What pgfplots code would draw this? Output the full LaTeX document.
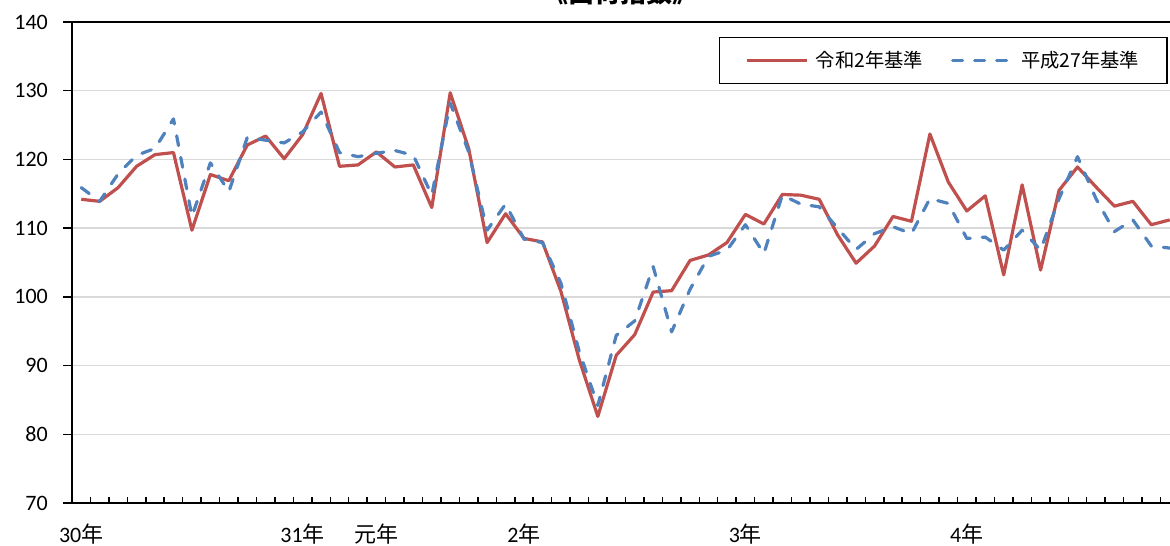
\documentclass[border=0pt]{standalone}
\usepackage{fontspec}
\setmainfont{Carlito}
\newfontfamily\jp{Noto Sans CJK JP}
\usepackage{pgfplots}
\pgfplotsset{compat=1.18}
\definecolor{cred}{RGB}{192,80,77}
\definecolor{cblue}{RGB}{79,129,189}
\definecolor{cgrid}{RGB}{217,217,217}
\pgfplotstableread{
i r b
0 114.2 115.9
1 113.9 113.9
2 115.9 117.9
3 119.0 120.6
4 120.7 121.6
5 121.0 125.9
6 109.7 111.7
7 117.8 119.5
8 116.9 115.3
9 122.1 123.2
10 123.4 122.8
11 120.1 122.4
12 123.6 124.0
13 129.6 126.9
14 119.0 121.0
15 119.2 120.4
16 121.1 120.9
17 118.9 121.3
18 119.2 120.6
19 113.0 114.8
20 129.7 128.2
21 121.6 121.1
22 107.9 109.7
23 112.1 113.5
24 108.5 108.4
25 108.0 107.9
26 100.8 102.0
27 90.8 92.0
28 82.6 84.2
29 91.5 94.4
30 94.5 96.5
31 100.7 104.4
32 100.9 94.9
33 105.3 101.1
34 106.1 105.9
35 107.9 106.8
36 112.0 110.5
37 110.6 106.3
38 114.9 114.8
39 114.8 113.5
40 114.2 113.1
41 109.0 110.0
42 104.9 106.9
43 107.4 109.2
44 111.7 110.2
45 111.0 109.2
46 123.7 114.3
47 116.7 113.6
48 112.5 108.5
49 114.7 108.7
50 103.2 106.8
51 116.3 109.7
52 103.9 106.8
53 115.5 114.3
54 118.9 120.4
55 116.0 114.3
56 113.2 109.5
57 113.9 111.2
58 110.5 107.4
59 111.2 107.1
}\datatable
\begin{document}
\begin{tikzpicture}
\begin{axis}[
  at={(0pt,0pt)}, anchor=south west,
  scale only axis, width=1107pt, height=481pt,
  xmin=-0.5, xmax=59.5, ymin=70, ymax=140,
  axis x line*=bottom, axis y line*=left,
  axis line style={line width=2pt, -},
  tick align=outside,
  /pgf/number format/assume math mode=true,
  ytick={70,80,...,140},
  ymajorgrids, grid style={cgrid, line width=1.5pt},
  major tick length=9pt,
  minor tick length=6pt,
  y tick style={line width=1.5pt, black},
  yticklabel style={font=\fontsize{22}{24}\selectfont, anchor=east, inner sep=0pt, xshift=-15pt},
  xtick={0,12,16,24,36,48},
  xticklabels={30{\jp 年},31{\jp 年},{\jp 元年},2{\jp 年},3{\jp 年},4{\jp 年}},
  major x tick style={draw=none},
  minor xtick={-0.5,0.5,...,59.5},
  minor x tick style={line width=1.5pt, black, yshift=6pt},
  xticklabel style={font=\fontsize{22}{24}\selectfont, anchor=base, inner sep=0pt, yshift=-30pt},
  legend style={at={(0.990,0.969)}, anchor=north east, draw=black, line width=1.5pt, fill=white,
    font=\jp\fontsize{19.3}{21}\selectfont, inner xsep=26pt, inner ysep=12pt,
    /tikz/every even column/.append style={column sep=26pt}},
  legend columns=2,
  legend image code/.code={\draw[#1] (0pt,0pt) -- (60pt,0pt); \path (65pt,0pt);},
]
\addplot[cred, line width=3.2pt, line join=round] table[x=i, y=r] {\datatable};
\addlegendentry{令和2年基準}
\addplot[cblue, line width=3.2pt, line cap=round, line join=round, dash pattern=on 10pt off 12pt] table[x=i, y=b] {\datatable};
\addlegendentry{平成27年基準}
\end{axis}
\draw[line width=1.8pt] (0pt,481pt) -- (1107pt,481pt);
\node[font=\jp\bfseries\fontsize{26}{30}\selectfont, anchor=base] at (548pt,500.5pt) {《出荷指数》};
\pgfresetboundingbox
\useasboundingbox (-72pt,-43pt) rectangle (1098pt,503pt);
\end{tikzpicture}
\end{document}
